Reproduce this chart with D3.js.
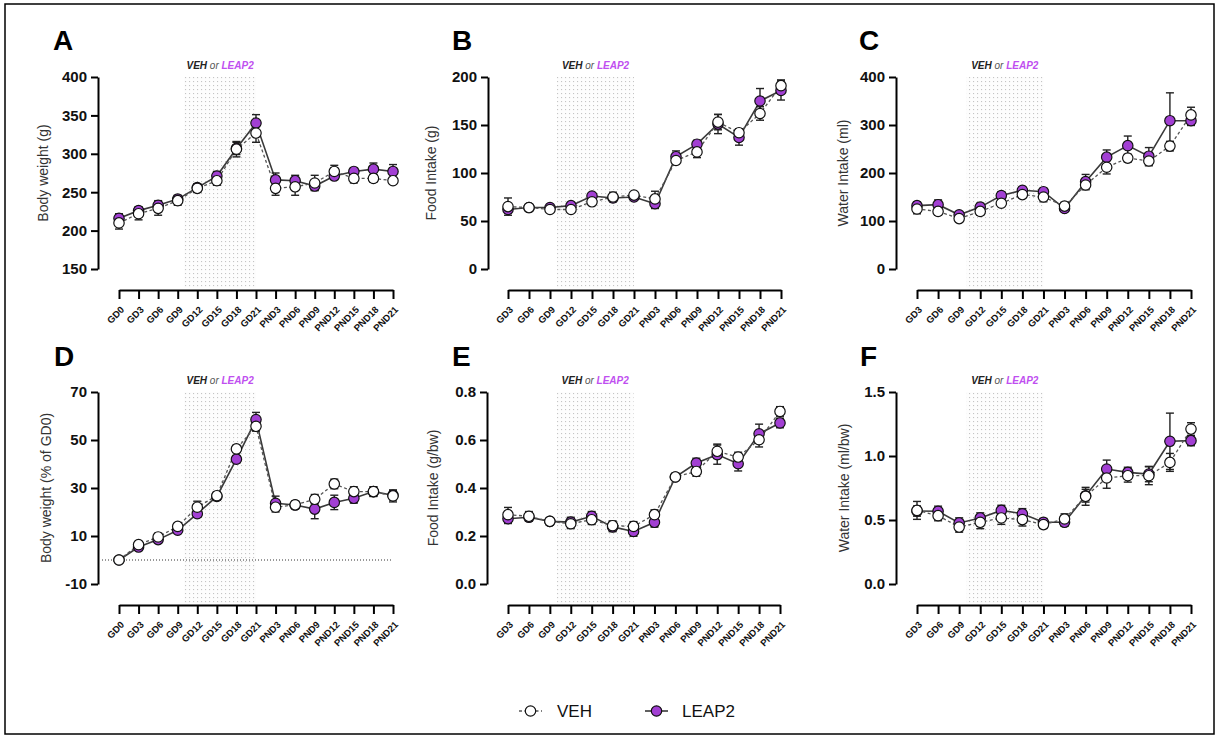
<!DOCTYPE html>
<html>
<head>
<meta charset="utf-8">
<script src="https://cdn.jsdelivr.net/npm/d3@7"></script>
<style>
  body { margin: 0; background: #fff; }
  svg { display: block; font-family: "Liberation Sans", Arial, sans-serif; }
</style>
</head>
<body>
<div id="chart"></div>
<script>
// timepoints (tick labels)
var daysWithGD0 = ["GD0","GD3","GD6","GD9","GD12","GD15","GD18","GD21","PND3","PND6","PND9","PND12","PND15","PND18","PND21"];
var daysNoGD0 = ["GD3","GD6","GD9","GD12","GD15","GD18","GD21","PND3","PND6","PND9","PND12","PND15","PND18","PND21"];

// A - body weight (g)
var bwVeh  = [210,222,229,239,255,265,306,327,255,257,262,277,268,268,265];
var bwVehSem  = [8,8,9,6,5,6,10,12,9,11,10,8,6,5,3];
var bwLeap = [216,226,233,241,256,271,307,340,266,265,258,271,277,280,277];
var bwLeapSem = [6,5,6,5,5,6,8,11,9,7,5,4,3,8,9];

// B - food intake (g)
var fiVeh  = [65,64,62,62,70,75,77,73,113,122,153,142,162,191];
var fiVehSem  = [9,2,2,3,3,5,3,8,4,6,8,4,7,6];
var fiLeap = [62,64,64,66,76,74,75,68,117,130,151,137,175,186];
var fiLeapSem = [4,2,3,3,3,3,3,5,6,4,10,8,13,10];

// C - water intake (ml)
var wiVeh  = [125,120,105,120,137,155,150,131,175,212,231,225,256,321];
var wiVehSem  = [10,8,5,8,6,6,10,8,10,14,8,10,10,16];
var wiLeap = [132,134,113,129,153,164,161,126,182,233,257,235,309,309];
var wiLeapSem = [8,10,6,8,8,6,6,6,15,15,20,18,58,10];

// D - body weight (% of GD0)
var bwpVeh  = [0,6.4,9.6,14,22,26.8,46.3,55.7,22,23,25.3,31.7,28.5,28.5,26.7];
var bwpVehSem  = [0,1,1.5,1,2.5,1.5,1.5,2,2,1.5,2,2,2,2,2.5];
var bwpLeap = [0,5.4,8.5,12.4,19.3,26.5,42,58.5,23.6,22.9,21.2,24,25.7,28.5,27];
var bwpLeapSem = [0,1,1,1,1.5,1.5,1.5,3,3,1.5,4,3,2,2,2];

// E - food intake (g/bw)
var fibVeh  = [0.289,0.282,0.261,0.251,0.268,0.243,0.240,0.289,0.446,0.469,0.553,0.529,0.601,0.719];
var fibVehSem  = [0.03,0.02,0.01,0.02,0.02,0.02,0.02,0.02,0.01,0.02,0.03,0.02,0.03,0.02];
var fibLeap = [0.272,0.278,0.261,0.258,0.282,0.238,0.219,0.257,0.446,0.504,0.539,0.501,0.626,0.671];
var fibLeapSem = [0.02,0.01,0.01,0.02,0.02,0.02,0.02,0.02,0.01,0.02,0.04,0.03,0.04,0.02];

// F - water intake (ml/bw)
var wibVeh  = [0.575,0.534,0.445,0.482,0.516,0.503,0.464,0.508,0.685,0.828,0.846,0.846,0.95,1.21];
var wibVehSem  = [0.07,0.04,0.04,0.05,0.05,0.05,0.03,0.04,0.07,0.08,0.05,0.07,0.07,0.05];
var wibLeap = [0.57,0.568,0.477,0.516,0.575,0.549,0.482,0.482,0.69,0.898,0.872,0.859,1.115,1.12];
var wibLeapSem = [0.04,0.04,0.04,0.04,0.04,0.04,0.03,0.03,0.05,0.07,0.04,0.06,0.22,0.04];

var purple = "#a23fd3";
var labelPurple = "#c04ff0";

var svg = d3.select("#chart").append("svg")
    .attr("width", 1219)
    .attr("height", 738);

// dotted fill for the treatment window
var pat = svg.append("defs").append("pattern")
    .attr("id", "dots")
    .attr("patternUnits", "userSpaceOnUse")
    .attr("width", 4).attr("height", 4);
pat.append("rect").attr("width", 4).attr("height", 4).attr("fill", "#fdfdfd");
pat.append("rect").attr("x", 1).attr("y", 1).attr("width", 1.1).attr("height", 1.1).attr("fill", "#c4c4c4");

// frame
svg.append("rect")
    .attr("x", 5).attr("y", 4)
    .attr("width", 1209).attr("height", 730)
    .attr("fill", "none")
    .attr("stroke", "#000")
    .attr("stroke-width", 1.5);

var minusFmt = function(f) {
  return function(d) { return f(d).replace("\u2212", "-"); };
};

var panels = [
  {letter: "A", title: "Body weight (g)", days: daysWithGD0, veh: bwVeh, vehSem: bwVehSem, leap: bwLeap, leapSem: bwLeapSem,
   domain: [150, 400], ticks: [150,200,250,300,350,400], fmt: d3.format("d"),
   yAxisX: 98, yTop: 77, yBot: 269, xAxisY: 290, xStart: 119, xEnd: 393, titleX: 48, letterX: 53, letterY: 50},
  {letter: "B", title: "Food Intake (g)", days: daysNoGD0, veh: fiVeh, vehSem: fiVehSem, leap: fiLeap, leapSem: fiLeapSem,
   domain: [0, 200], ticks: [0,50,100,150,200], fmt: d3.format("d"),
   yAxisX: 488, yTop: 77, yBot: 269, xAxisY: 290, xStart: 508, xEnd: 781, titleX: 436, letterX: 452, letterY: 50},
  {letter: "C", title: "Water Intake (ml)", days: daysNoGD0, veh: wiVeh, vehSem: wiVehSem, leap: wiLeap, leapSem: wiLeapSem,
   domain: [0, 400], ticks: [0,100,200,300,400], fmt: d3.format("d"),
   yAxisX: 896, yTop: 77, yBot: 269, xAxisY: 290, xStart: 917, xEnd: 1191, titleX: 848, letterX: 859, letterY: 50},
  {letter: "D", title: "Body weight (% of GD0)", days: daysWithGD0, veh: bwpVeh, vehSem: bwpVehSem, leap: bwpLeap, leapSem: bwpLeapSem,
   domain: [-10, 70], ticks: [-10,10,30,50,70], fmt: d3.format("d"), zeroLine: true,
   yAxisX: 98, yTop: 392, yBot: 584, xAxisY: 605, xStart: 119, xEnd: 393, titleX: 51, letterX: 54, letterY: 366},
  {letter: "E", title: "Food Intake (g/bw)", days: daysNoGD0, veh: fibVeh, vehSem: fibVehSem, leap: fibLeap, leapSem: fibLeapSem,
   domain: [0, 0.8], ticks: [0,0.2,0.4,0.6,0.8], fmt: d3.format(".1f"),
   yAxisX: 487, yTop: 392, yBot: 584, xAxisY: 605, xStart: 508, xEnd: 780, titleX: 438, letterX: 452, letterY: 366},
  {letter: "F", title: "Water Intake (ml/bw)", days: daysNoGD0, veh: wibVeh, vehSem: wibVehSem, leap: wibLeap, leapSem: wibLeapSem,
   domain: [0, 1.5], ticks: [0,0.5,1.0,1.5], fmt: d3.format(".1f"),
   yAxisX: 896, yTop: 392, yBot: 584, xAxisY: 605, xStart: 917, xEnd: 1191, titleX: 849, letterX: 860, letterY: 366}
];

panels.forEach(function(p) {
  var g = svg.append("g");

  var x = d3.scalePoint().domain(p.days).range([p.xStart, p.xEnd]);
  var y = d3.scaleLinear().domain(p.domain).range([p.yBot, p.yTop]);

  // treatment window GD10 -> GD21
  var shadeX0 = x("GD9") + x.step() / 3;
  var shadeX1 = x("GD21");
  g.append("rect")
      .attr("x", shadeX0)
      .attr("y", p.yTop)
      .attr("width", shadeX1 - shadeX0)
      .attr("height", p.xAxisY - 2 - p.yTop)
      .attr("fill", "url(#dots)");

  var lab = g.append("text")
      .attr("x", (shadeX0 + shadeX1) / 2)
      .attr("y", p.yTop - 8)
      .attr("text-anchor", "middle")
      .attr("font-size", "10px")
      .attr("font-style", "italic");
  lab.append("tspan").attr("font-weight", "bold").attr("fill", "#222").text("VEH");
  lab.append("tspan").attr("fill", "#555").text(" or ");
  lab.append("tspan").attr("font-weight", "bold").attr("fill", labelPurple).text("LEAP2");

  if (p.zeroLine) {
    g.append("line")
        .attr("x1", p.yAxisX + 4).attr("x2", p.xEnd)
        .attr("y1", y(0)).attr("y2", y(0))
        .attr("stroke", "#333")
        .attr("stroke-width", 1)
        .attr("stroke-dasharray", "1,2");
  }

  // y axis
  var yAxis = g.append("g")
      .attr("transform", "translate(" + p.yAxisX + ",0)")
      .call(d3.axisLeft(y).tickValues(p.ticks).tickFormat(minusFmt(p.fmt)).tickSize(7).tickSizeOuter(0).tickPadding(4));
  yAxis.selectAll("path, line").attr("stroke", "#000").attr("stroke-width", 2);
  yAxis.selectAll("text")
      .attr("fill", "#111")
      .attr("font-size", "15px")
      .attr("font-weight", "bold")
      .attr("font-family", "'Liberation Sans', Arial, sans-serif");

  // x axis
  var xAxis = g.append("g")
      .attr("transform", "translate(0," + p.xAxisY + ")")
      .call(d3.axisBottom(x).tickSize(9).tickSizeOuter(0));
  xAxis.selectAll("path, line").attr("stroke", "#000").attr("stroke-width", 2);
  xAxis.selectAll("text")
      .attr("y", 0).attr("x", 0).attr("dy", "0.35em")
      .attr("transform", "translate(3,18) rotate(-45)")
      .attr("text-anchor", "end")
      .attr("fill", "#111")
      .attr("font-size", "9.5px")
      .attr("font-weight", "bold")
      .attr("font-family", "'Liberation Sans', Arial, sans-serif");

  // y title
  g.append("text")
      .attr("transform", "translate(" + p.titleX + "," + ((p.yTop + p.yBot) / 2) + ") rotate(-90)")
      .attr("text-anchor", "middle")
      .attr("font-size", "14px")
      .attr("fill", "#333")
      .text(p.title);

  // panel letter
  g.append("text")
      .attr("x", p.letterX).attr("y", p.letterY)
      .attr("font-size", "28px")
      .attr("font-weight", "bold")
      .attr("fill", "#000")
      .text(p.letter);

  var series = [
    {vals: p.leap, sem: p.leapSem, fill: purple, line: "#3a3a3a", dash: null, width: 1.6},
    {vals: p.veh, sem: p.vehSem, fill: "#fff", line: "#555", dash: "3,2.5", width: 1.3}
  ];

  var line = d3.line()
      .x(function(d, i) { return x(p.days[i]); })
      .y(function(d) { return y(d); });

  series.forEach(function(s) {
    g.append("path")
        .datum(s.vals)
        .attr("d", line)
        .attr("fill", "none")
        .attr("stroke", s.line)
        .attr("stroke-width", s.width)
        .attr("stroke-dasharray", s.dash);
  });

  series.forEach(function(s) {
    var eb = g.append("g");
    s.vals.forEach(function(v, i) {
      if (!s.sem[i]) return;
      var cx = x(p.days[i]);
      var yHi = y(v + s.sem[i]);
      var yLo = y(v - s.sem[i]);
      eb.append("line").attr("x1", cx).attr("x2", cx).attr("y1", yHi).attr("y2", yLo)
          .attr("stroke", "#222").attr("stroke-width", 1.4);
      eb.append("line").attr("x1", cx - 4).attr("x2", cx + 4).attr("y1", yHi).attr("y2", yHi)
          .attr("stroke", "#222").attr("stroke-width", 1.4);
      eb.append("line").attr("x1", cx - 4).attr("x2", cx + 4).attr("y1", yLo).attr("y2", yLo)
          .attr("stroke", "#222").attr("stroke-width", 1.4);
    });
  });

  series.forEach(function(s) {
    g.append("g").selectAll("circle")
        .data(s.vals)
        .enter()
        .append("circle")
        .attr("cx", function(d, i) { return x(p.days[i]); })
        .attr("cy", function(d) { return y(d); })
        .attr("r", 5.2)
        .attr("fill", s.fill)
        .attr("stroke", "#111")
        .attr("stroke-width", 1.2);
  });
});

// legend
var legend = svg.append("g").attr("transform", "translate(0,711)");
legend.append("line").attr("x1", 519).attr("x2", 542).attr("y1", 0).attr("y2", 0)
    .attr("stroke", "#555").attr("stroke-width", 1.3).attr("stroke-dasharray", "3,2.5");
legend.append("circle").attr("cx", 530.5).attr("cy", 0).attr("r", 5.2)
    .attr("fill", "#fff").attr("stroke", "#111").attr("stroke-width", 1.2);
legend.append("text").attr("x", 557).attr("y", 6).attr("font-size", "17px").attr("fill", "#111").text("VEH");
legend.append("line").attr("x1", 645).attr("x2", 668).attr("y1", 0).attr("y2", 0)
    .attr("stroke", "#3a3a3a").attr("stroke-width", 1.6);
legend.append("circle").attr("cx", 656.5).attr("cy", 0).attr("r", 5.2)
    .attr("fill", purple).attr("stroke", "#111").attr("stroke-width", 1.2);
legend.append("text").attr("x", 682).attr("y", 6).attr("font-size", "17px").attr("fill", "#111").text("LEAP2");
</script>
</body>
</html>
